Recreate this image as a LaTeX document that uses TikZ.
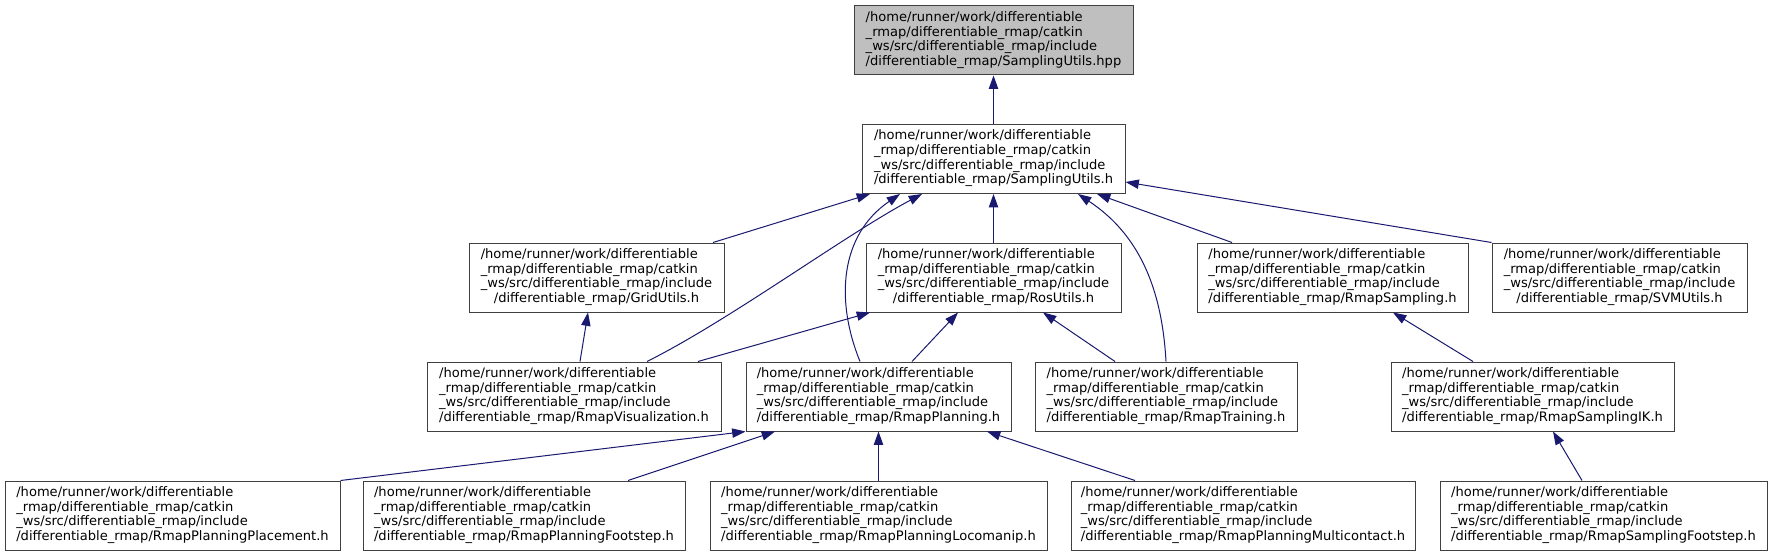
\documentclass[tikz,border=0pt]{standalone}
\usepackage{fontspec}
\setmainfont{DejaVu Sans}
\usepackage{xcolor}
\usepackage{tikz}
\usetikzlibrary{arrows.meta,calc}

\definecolor{boxline}{HTML}{404040}
\definecolor{boxgrey}{HTML}{BFBFBF}
\definecolor{deplink}{HTML}{191970}

\def\px{0.75pt}
\newcommand{\fpath}[1]{\begin{tabular}{@{}l@{}}/home/runner/work/differentiable\\\_rmap/differentiable\_rmap/catkin\\\_ws/src/differentiable\_rmap/include\\\multicolumn{1}{@{}c@{}}{/differentiable\_rmap/#1}\end{tabular}}

\tikzset{
  filebox/.style={draw=boxline, line width=0.75pt, fill=white, minimum height=69*\px, inner sep=0pt, font=\fontsize{9.8}{11}\selectfont},
  dep/.style={draw=deplink, line width=0.75pt, -{Triangle[length=10pt,width=7pt]}}
}

\begin{document}
\begin{tikzpicture}[x=0.75pt, y=-0.75pt]
\fill[white] (0,0) rectangle (1772,556);
\useasboundingbox (0,0) rectangle (1772,556);
% included header and its wrapper
\node[filebox, fill=boxgrey, minimum width=279*\px] (hpp) at (993.5,40.5) {\fpath{SamplingUtils.hpp}};
\node[filebox, minimum width=263*\px] (su) at (993.5,159) {\fpath{SamplingUtils.h}};
% row 3
\foreach \nm/\cx/\bw/\fn in {grid/596.5/255/GridUtils.h, ros/993.5/255/RosUtils.h, rsamp/1332.5/271/RmapSampling.h, svm/1619.5/255/SVMUtils.h}
  \node[filebox, minimum width=\bw*\px] (\nm) at (\cx,277.5) {\fpath{\fn}};
% row 4
\foreach \nm/\cx/\bw/\fn in {vis/574/294/RmapVisualization.h, plan/878.5/265/RmapPlanning.h, train/1166/262/RmapTraining.h, sik/1532.5/283/RmapSamplingIK.h}
  \node[filebox, minimum width=\bw*\px] (\nm) at (\cx,396.5) {\fpath{\fn}};
% row 5
\foreach \nm/\cx/\bw/\fn in {place/172.5/335/RmapPlanningPlacement.h, pfoot/524/322/RmapPlanningFootstep.h, loco/878.5/337/RmapPlanningLocomanip.h, multi/1243/344/RmapPlanningMulticontact.h, sfoot/1603.5/327/RmapSamplingFootstep.h}
  \node[filebox, minimum width=\bw*\px] (\nm) at (\cx,515.5) {\fpath{\fn}};
% includes of SamplingUtils.h
\draw[dep] (su.north) -- (hpp.south);
\draw[dep] ($(grid.north)+(116.5,0)$) -- ($(su.south)+(-123.5,0)$);
\draw[dep] ($(vis.north)+(73,0)$) .. controls (730,320) and (845,235) .. ($(su.south)+(-71.5,0)$);
\draw[dep] ($(plan.north)+(-18.5,0)$) .. controls (835,300) and (840,235) .. ($(su.south)+(-93.5,0)$);
\draw[dep] (ros.north) -- (su.south);
\draw[dep] (train.north) .. controls (1162,290) and (1140,235) .. ($(su.south)+(84.5,0)$);
\draw[dep] ($(rsamp.north)+(-100.5,0)$) -- ($(su.south)+(103.5,0)$);
\draw[dep] (svm.north west) -- ($(su.east)+(0,23)$);
% row 4 to row 3
\draw[dep] ($(vis.north)+(6,0)$) -- ($(grid.south)+(-8.5,0)$);
\draw[dep] ($(vis.north)+(124,0)$) -- ($(ros.south)+(-123.5,0)$);
\draw[dep] ($(plan.north)+(33.5,0)$) -- ($(ros.south)+(-35.5,0)$);
\draw[dep] ($(train.north)+(-51,0)$) -- ($(ros.south)+(49.5,0)$);
\draw[dep] ($(sik.north)+(-59.5,0)$) -- ($(rsamp.south)+(60.5,0)$);
% row 5 to row 4
\draw[dep] (place.north east) -- (plan.south west);
\draw[dep] ($(pfoot.north)+(104,0)$) -- ($(plan.south)+(-103.5,0)$);
\draw[dep] (loco.north) -- (plan.south);
\draw[dep] ($(multi.north)+(-108,0)$) -- ($(plan.south)+(108.5,0)$);
\draw[dep] ($(sfoot.north)+(-21.5,0)$) -- ($(sik.south)+(20.5,0)$);
\end{tikzpicture}
\end{document}
